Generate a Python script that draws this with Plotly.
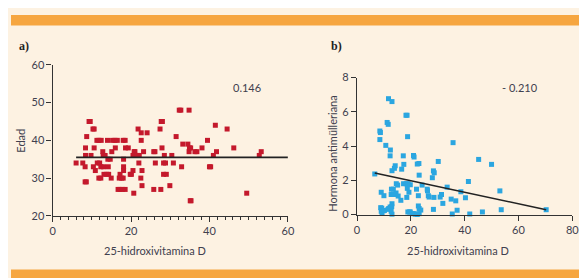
import plotly.graph_objects as go

# Panel a) 25-hidroxivitamina D vs Edad
a_vitd = [6.0,7.7,8.3,8.4,8.4,8.7,8.3,8.6,9.3,9.6,9.8,10.3,10.6,10.6,10.4,10.9,11.3,11.8,12.4,11.4,
          12.0,11.8,12.3,12.8,12.9,13.4,12.3,13.0,13.1,13.8,14.3,14.0,14.1,14.7,14.2,14.95,15.1,15.3,15.9,16.5,
          16.0,16.7,17.2,17.8,18.5,17.0,17.6,18.0,17.2,18.1,18.1,18.0,18.5,18.1,18.6,19.3,19.8,20.1,20.5,20.7,
          20.8,21.0,20.5,21.1,21.6,22.1,21.8,22.0,22.6,22.6,22.5,22.8,22.8,23.2,24.1,25.8,26.1,25.8,26.2,27.4,
          27.7,28.0,27.9,28.3,28.8,28.3,29.0,28.5,27.6,29.9,30.4,30.8,31.5,32.3,32.7,32.9,33.2,34.8,34.5,34.8,
          34.9,35.2,35.1,35.3,36.3,36.8,38.1,39.5,40.0,40.3,41.0,41.5,41.8,44.5,46.2,49.5,52.7,53.2]
a_edad = [34,34,33,38,36,41,29,29,45,45,36,43,43,38,33,32,40,40,40,34,
          34,30,30,37,36,36,33,33,31,31,31,40,35,35,33,30,37,40,40,40,
          38,27,27,27,27,30,30,30,31,32,33,40,40,35,38,38,31,31,32,26,
          37,37,36,36,36,36,43,34,40,42,30,32,28,37,42,37,37,27,34,43,
          45,45,38,34,34,31,31,36,27,28,36,34,41,48,48,33,39,48,39,37,
          38,38,24,24,37,37,38,40,33,33,36,44,37,43,38,26,36,37]
a_line_x = [6.0, 60.0]
a_line_y = [35.5, 35.5]
a_r = "0.146"

# Panel b) 25-hidroxivitamina D vs Hormona antimülleriana
b_vitd = [6.6,8.5,8.7,8.5,9.0,10.0,8.8,9.2,9.8,10.7,11.2,11.6,11.7,13.0,12.4,12.3,13.0,13.9,14.2,12.8,
          13.5,12.7,13.9,14.6,15.1,14.5,15.3,16.3,13.0,12.9,11.8,12.3,13.0,12.7,9.0,9.3,10.2,11.5,17.2,17.4,
          16.6,18.2,18.6,18.8,17.3,18.3,19.0,19.8,18.7,19.3,18.5,18.9,19.5,19.8,20.6,21.2,21.7,21.0,21.2,22.4,
          23.0,23.1,22.1,22.8,22.8,23.1,23.7,23.1,22.4,24.2,26.1,26.2,26.5,26.8,28.4,28.7,28.0,28.6,28.4,30.2,
          30.9,31.4,31.9,33.5,35.0,35.7,35.4,36.7,37.2,38.6,40.3,41.4,41.9,45.2,46.6,50.0,53.1,53.6,70.3]
b_amh = [2.37,4.88,4.79,4.38,1.3,1.1,0.4,0.37,0.22,4.04,5.38,5.27,6.77,6.6,3.77,3.43,2.56,2.7,2.85,1.48,
         1.48,1.17,1.17,1.8,1.72,1.26,1.08,0.83,0.63,0.46,0.35,0.44,0.02,0.19,0.19,0.07,0.24,0.3,3.43,2.93,
         2.65,5.8,5.8,4.55,1.8,1.8,1.8,1.74,1.53,1.3,1.0,0.15,0.15,0.15,0.05,0.05,0.02,3.45,3.36,2.95,
         2.98,2.3,1.48,1.1,0.5,0.35,0.26,0.05,0.0,1.72,1.48,1.39,1.1,1.02,2.55,2.44,2.15,1.0,0.3,3.1,
         1.02,1.17,0.65,1.6,0.9,4.2,0.03,0.8,0.25,1.33,0.98,1.93,0.03,3.22,0.15,2.93,1.38,0.28,0.28]
b_line_x = [6.6, 70.3]
b_line_y = [2.43, 0.28]
b_r = "- 0.210"

W, H = 587, 278
BG = "#FDF2E2"
ORANGE = "#F6A640"
RED = "#C4192C"
BLUE = "#2BA6E0"
AX = "#333333"
TXT = "#40404E"
FONT = "Lato"

def px(x):
    return x / W

def py(y):
    return 1 - y / H

fig = go.Figure()
fig.add_trace(go.Scatter(x=a_vitd, y=a_edad, mode="markers", xaxis="x", yaxis="y",
                         marker=dict(symbol="square", size=5, color=RED), cliponaxis=False,
                         showlegend=False))
fig.add_trace(go.Scatter(x=a_line_x, y=a_line_y, mode="lines", xaxis="x", yaxis="y",
                         line=dict(color="#222222", width=1.6), showlegend=False))
fig.add_trace(go.Scatter(x=b_vitd, y=b_amh, mode="markers", xaxis="x2", yaxis="y2",
                         marker=dict(symbol="square", size=5, color=BLUE), cliponaxis=False,
                         showlegend=False))
fig.add_trace(go.Scatter(x=b_line_x, y=b_line_y, mode="lines", xaxis="x2", yaxis="y2",
                         line=dict(color="#222222", width=1.6), showlegend=False))

common = dict(showline=True, linecolor=AX, linewidth=1.2, ticks="outside", ticklen=5,
              tickcolor=AX, tickwidth=1, showgrid=False, zeroline=False,
              tickfont=dict(family=FONT, size=11, color=TXT))

fig.update_layout(
    width=W, height=H, margin=dict(l=0, r=0, t=0, b=0),
    paper_bgcolor=BG, plot_bgcolor=BG,
    xaxis=dict(domain=[px(42.3), px(281.7)], range=[0, 60], anchor="y", tickvals=[0, 20, 40, 60],
               minor=dict(dtick=2, ticks="outside", ticklen=3, tickcolor=AX), **common),
    yaxis=dict(domain=[py(210.7), py(52.3)], range=[20, 60], anchor="x", tickvals=[20, 30, 40, 50, 60],
               **common),
    xaxis2=dict(domain=[px(352), px(571)], range=[0, 80], anchor="y2", tickvals=[0, 20, 40, 60, 80],
                **common),
    yaxis2=dict(domain=[py(209.3), py(65.7)], range=[0, 8], anchor="x2", tickvals=[0, 2, 4, 6, 8],
                **common),
    shapes=[
        dict(type="rect", xref="paper", yref="paper", x0=0, x1=1, y0=py(11), y1=1,
             fillcolor=ORANGE, line=dict(width=0), layer="below"),
        dict(type="rect", xref="paper", yref="paper", x0=0, x1=1, y0=py(277), y1=py(267),
             fillcolor=ORANGE, line=dict(width=0), layer="below"),
    ],
)

ann_font = dict(family=FONT, size=11, color="#40404E")
anns = [
    dict(text="a)", x=px(6), y=py(32), xanchor="left", font=dict(family="Liberation Serif", size=12, color="#222222"), bold=True),
    dict(text="b)", x=px(324), y=py(32), xanchor="left", font=dict(family="Liberation Serif", size=12, color="#222222"), bold=True),
    dict(text=a_r, x=px(240), y=py(76), font=ann_font),
    dict(text=b_r, x=px(518), y=py(76), font=ann_font),
    dict(text="25-hidroxivitamina D", x=px(147), y=py(247), font=ann_font),
    dict(text="25-hidroxivitamina D", x=px(455), y=py(247), font=ann_font),
    dict(text="Edad", x=px(10), y=py(132), textangle=-90, font=ann_font),
    dict(text="Hormona antimülleriana", x=px(327), y=py(145), textangle=-90, font=ann_font),
]
for a in anns:
    bold = a.pop("bold", False)
    if bold:
        a["text"] = "<b>" + a["text"] + "</b>"
    fig.add_annotation(xref="paper", yref="paper", showarrow=False, yanchor="middle",
                       **({"xanchor": "center"} | a))

fig.write_html("out.html")
